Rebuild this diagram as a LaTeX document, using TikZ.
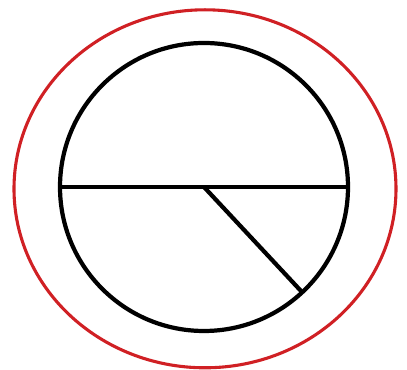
\documentclass[tikz,border=0pt]{standalone}
\usepackage{tikz}
\usetikzlibrary{shapes.geometric}
\definecolor{ringred}{RGB}{208,32,36}

\begin{document}
\begin{tikzpicture}[
    ring/.style={draw=ringred, line width=2.2pt, ellipse, inner sep=0pt, outer sep=0pt, minimum width=9.55cm, minimum height=8.95cm},
    disc/.style={draw, line width=3pt, circle, inner sep=0pt, outer sep=0pt, minimum size=7.2cm}]
    \useasboundingbox (0,0) rectangle (10.175,-9.25);
    \node[ring] (outer) at (5.125,-4.72) {};
    \node[disc] (inner) at (5.1,-4.675) {};
    \draw[line width=3pt] (inner.west) -- (inner.east);
    \draw[line width=3pt] (inner.center) -- (inner.-47);
  \end{tikzpicture}
\end{document}
